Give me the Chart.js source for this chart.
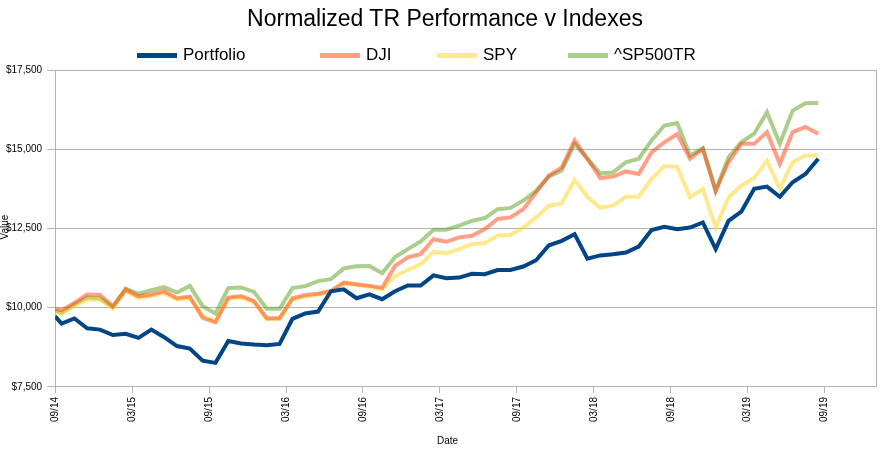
<!DOCTYPE html>
<html>
<head>
<meta charset="utf-8">
<script src="https://cdn.jsdelivr.net/npm/chart.js@4.4.1/dist/chart.umd.min.js"></script>
<style>
  body { margin: 0; background: #fff; }
  #wrap { position: relative; width: 895px; height: 454px; font-family: "Liberation Sans", Arial, sans-serif; }
  #title { position: absolute; left: 0; top: 4px; width: 890px; text-align: center; font-size: 23px; line-height: 28px; color: #000; }
  #legend { position: absolute; left: 0; top: 44px; width: 895px; height: 22px; }
  .item { position: absolute; top: 0; display: flex; align-items: center; height: 22px; font-size: 17px; color: #000; }
  .swatch { width: 40px; height: 5px; margin-right: 6px; }
</style>
</head>
<body>
<div id="wrap">
  <canvas id="perfChart"></canvas>
  <div id="title">Normalized TR Performance v Indexes</div>
  <div id="legend"></div>
</div>
<script>
// даты точек: первая - старт, дальше середина каждого месяца
const dates = [
    '2014-09-01', '2014-09-16', '2014-10-16', '2014-11-16', '2014-12-16',
    '2015-01-16', '2015-02-16', '2015-03-16', '2015-04-16', '2015-05-16', '2015-06-16',
    '2015-07-16', '2015-08-16', '2015-09-16', '2015-10-16', '2015-11-16', '2015-12-16',
    '2016-01-16', '2016-02-16', '2016-03-16', '2016-04-16', '2016-05-16', '2016-06-16',
    '2016-07-16', '2016-08-16', '2016-09-16', '2016-10-16', '2016-11-16', '2016-12-16',
    '2017-01-16', '2017-02-16', '2017-03-16', '2017-04-16', '2017-05-16', '2017-06-16',
    '2017-07-16', '2017-08-16', '2017-09-16', '2017-10-16', '2017-11-16', '2017-12-16',
    '2018-01-16', '2018-02-16', '2018-03-16', '2018-04-16', '2018-05-16', '2018-06-16',
    '2018-07-16', '2018-08-16', '2018-09-16', '2018-10-16', '2018-11-16', '2018-12-16',
    '2019-01-16', '2019-02-16', '2019-03-16', '2019-04-16', '2019-05-16', '2019-06-16',
    '2019-07-16', '2019-08-16'
];

const portfolio = [
    9730, 9500, 9660, 9350, 9310, 9140, 9180, 9050, 9310, 9070,
    8790, 8710, 8330, 8260, 8950, 8870, 8840, 8820, 8860, 9650,
    9820, 9880, 10520, 10580, 10300, 10420, 10270, 10520, 10700, 10700,
    11020, 10930, 10950, 11070, 11060, 11190, 11190, 11300, 11500, 11970,
    12110, 12320, 11550, 11650, 11690, 11740, 11930, 12450, 12550, 12480,
    12530, 12690, 11850, 12740, 13030, 13750, 13820, 13500, 13960, 14220,
    14700
];

const dji = [
    9960, 9920, 10150, 10420, 10400, 10050, 10570, 10360, 10420, 10520,
    10300, 10350, 9680, 9540, 10320, 10370, 10210, 9670, 9670, 10300,
    10400, 10440, 10530, 10790, 10740, 10690, 10630, 11320, 11590, 11690,
    12160, 12080, 12220, 12270, 12480, 12800, 12850, 13110, 13640, 14170,
    14430, 15280, 14700, 14090, 14140, 14300, 14220, 14900, 15220, 15480,
    14700, 15010, 13690, 14590, 15170, 15170, 15540, 14540, 15540, 15700,
    15490
];

const spy = [
    9870, 9800, 10050, 10270, 10260, 9970, 10530, 10300, 10380, 10460,
    10260, 10310, 9740, 9580, 10290, 10330, 10180, 9640, 9650, 10260,
    10350, 10420, 10510, 10770, 10720, 10660, 10580, 11000, 11190, 11370,
    11760, 11720, 11850, 12010, 12040, 12270, 12300, 12530, 12850, 13220,
    13290, 14030, 13500, 13150, 13220, 13500, 13500, 14060, 14470, 14450,
    13480, 13750, 12530, 13480, 13850, 14090, 14640, 13750, 14590, 14800,
    14800
];

const sp500tr = [
    9920, 9840, 10110, 10320, 10290, 10020, 10600, 10440, 10550, 10650,
    10480, 10690, 10050, 9820, 10620, 10640, 10500, 9970, 9970, 10620,
    10680, 10840, 10900, 11240, 11310, 11320, 11090, 11600, 11850, 12090,
    12460, 12460, 12590, 12740, 12830, 13110, 13150, 13380, 13690, 14140,
    14330, 15170, 14700, 14240, 14270, 14590, 14700, 15280, 15750, 15830,
    14800, 15030, 13690, 14750, 15220, 15490, 16170, 15170, 16220, 16450,
    16460
];

const tickLabels = ['09/14', '03/15', '09/15', '03/16', '09/16', '03/17', '09/17', '03/18', '09/18', '03/19', '09/19'];

const seriesNames = ['Portfolio', 'DJI', 'SPY', '^SP500TR'];
const seriesColors = ['#004586', 'rgba(255, 66, 14, 0.5)', 'rgba(255, 211, 32, 0.5)', 'rgba(87, 157, 28, 0.5)'];
const legendLeft = [137, 320, 437, 568];

const FONT = '"Liberation Sans", Arial, sans-serif';
const GRID = '#b3b3b3';

// месяцы от 01.09.2014
function monthOffset(d) {
    const [y, m, day] = d.split('-').map(Number);
    return (y - 2014) * 12 + (m - 9) + (day - 1) / 30;
}

function toPoints(values) {
    return values.map((v, i) => ({ x: monthOffset(dates[i]), y: v }));
}

const allSeries = [portfolio, dji, spy, sp500tr];

// рамка справа и подписи осей
const framePlugin = {
    id: 'frame',
    beforeDatasetsDraw(chart) {
        const { ctx, chartArea: a } = chart;
        ctx.save();
        ctx.strokeStyle = GRID;
        ctx.lineWidth = 1;
        ctx.beginPath();
        ctx.moveTo(Math.round(a.right) + 0.5, a.top);
        ctx.lineTo(Math.round(a.right) + 0.5, a.bottom);
        ctx.stroke();
        ctx.restore();
    },
    afterDraw(chart) {
        const { ctx } = chart;
        ctx.save();
        ctx.fillStyle = '#000';
        ctx.font = '10px ' + FONT;
        ctx.textAlign = 'center';
        ctx.textBaseline = 'middle';
        ctx.fillText('Date', chart.width / 2, 441);
        ctx.translate(5, 227);
        ctx.rotate(-Math.PI / 2);
        ctx.fillText('Value', 0, 0);
        ctx.restore();
    }
};

const ctx = document.getElementById('perfChart').getContext('2d');

new Chart(ctx, {
    type: 'line',
    data: {
        datasets: seriesNames.map((name, i) => ({
            label: name,
            data: toPoints(allSeries[i]),
            borderColor: seriesColors[i],
            backgroundColor: seriesColors[i],
            borderWidth: 4,
            pointRadius: 0,
            tension: 0,
            fill: false
        }))
    },
    options: {
        responsive: true,
        maintainAspectRatio: false,
        animation: false,
        layout: { padding: { left: 1, right: 19, top: 70, bottom: 28 } },
        plugins: {
            legend: { display: false },
            tooltip: { enabled: false },
            title: { display: false }
        },
        scales: {
            x: {
                type: 'linear',
                min: 0,
                max: 64,
                afterBuildTicks: scale => {
                    scale.ticks = tickLabels.map((_, i) => ({ value: i * 6 }));
                },
                ticks: {
                    color: '#000',
                    font: { family: FONT, size: 10 },
                    minRotation: 90,
                    maxRotation: 90,
                    padding: 4,
                    callback: value => tickLabels[Math.round(value / 6)]
                },
                grid: { drawOnChartArea: false, color: GRID, tickLength: 6 },
                border: { color: GRID }
            },
            y: {
                min: 7500,
                max: 17500,
                ticks: {
                    stepSize: 2500,
                    color: '#000',
                    font: { family: FONT, size: 10 },
                    padding: 5,
                    callback: value => '$' + value.toLocaleString('en-US')
                },
                grid: { color: GRID, tickLength: 8 },
                border: { color: GRID }
            }
        }
    },
    plugins: [framePlugin]
});

// легенда как в исходнике
const legend = document.getElementById('legend');
seriesNames.forEach((name, i) => {
    const item = document.createElement('div');
    item.className = 'item';
    item.style.left = legendLeft[i] + 'px';
    const sw = document.createElement('span');
    sw.className = 'swatch';
    sw.style.background = seriesColors[i];
    const txt = document.createElement('span');
    txt.textContent = name;
    item.appendChild(sw);
    item.appendChild(txt);
    legend.appendChild(item);
});
</script>
</body>
</html>
